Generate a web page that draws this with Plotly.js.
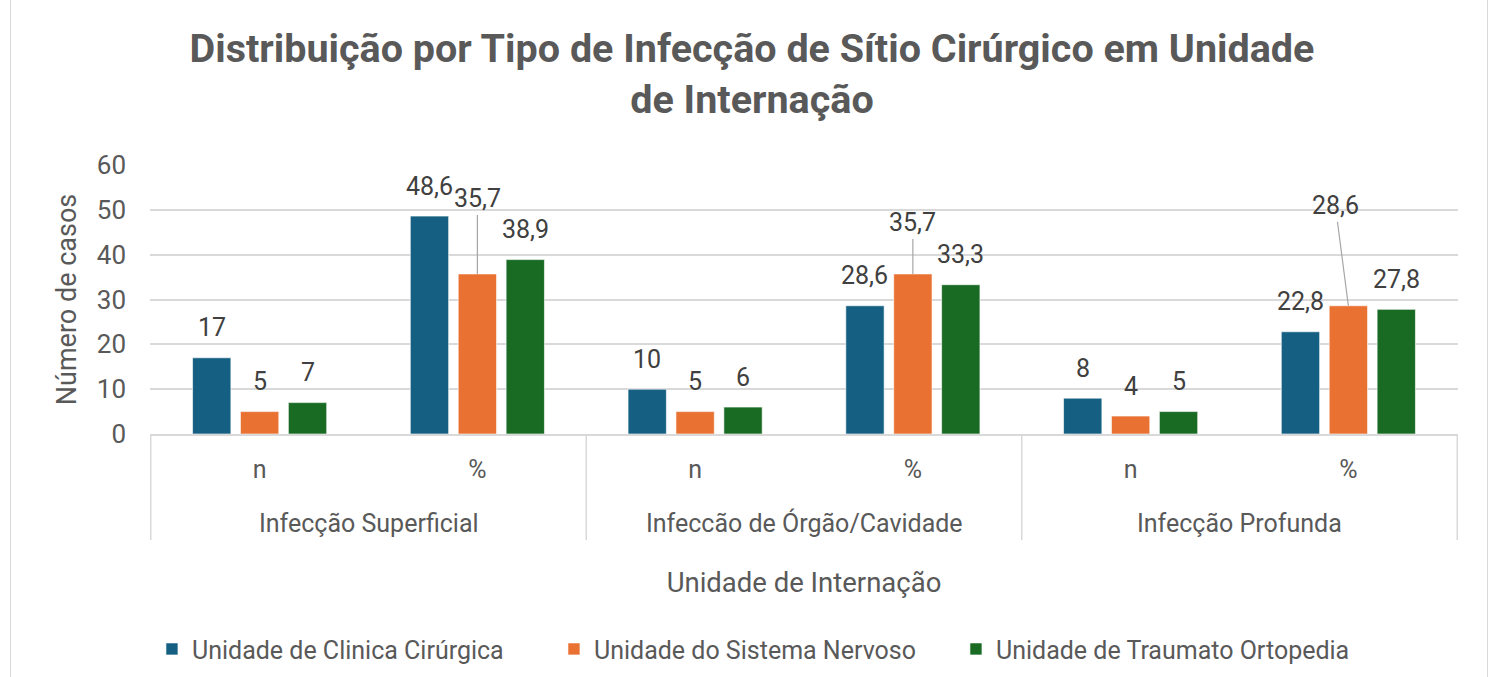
<!DOCTYPE html>
<html>
<head>
<meta charset="utf-8">
<script src="https://cdn.plot.ly/plotly-3.0.1.min.js"></script>
<style>
  html, body { margin: 0; padding: 0; background: #ffffff; }
  #frame { position: absolute; left: 10px; top: 0; width: 1476px; height: 677px;
           border-left: 1.5px solid #d9d9d9; border-right: 1.5px solid #d9d9d9; }
  #chart { position: absolute; left: 0; top: 0; width: 1498px; height: 677px; }
</style>
</head>
<body>
<div id="frame"></div>
<div id="chart"></div>
<script>
// ---- data ----
const infectionTypes = ["Infecção Superficial", "Infeccão de Órgão/Cavidade", "Infecção Profunda"];
const measures = ["n", "%"];
const seriesNames = ["Unidade de Clinica Cirúrgica", "Unidade do Sistema Nervoso", "Unidade de Traumato Ortopedia"];
const clinicaCirurgica = [17, 48.6, 10, 28.6, 8, 22.8];
const sistemaNervoso = [5, 35.7, 5, 35.7, 4, 28.6];
const traumatoOrtopedia = [7, 38.9, 6, 33.3, 5, 27.8];

// ---- styles ----
const colors = ["#156082", "#E97132", "#196B24"];
const textColor = "#595959";
const fontFamily = "Roboto, 'Open Sans', sans-serif";

const categories = [];
const tickText = [];
infectionTypes.forEach(t => measures.forEach(m => { categories.push(t + " | " + m); tickText.push(m); }));

const allSeries = [clinicaCirurgica, sistemaNervoso, traumatoOrtopedia];

const traces = allSeries.map((vals, i) => ({
  type: "bar",
  name: seriesNames[i],
  x: categories,
  y: vals,
  marker: { color: colors[i], line: { color: "rgba(255,255,255,0.6)", width: 1 } },
  hoverinfo: "x+y+name"
}));

// label placement (styling only): per-series pixel shift, and leader-line labels
const slotPx = 48;
const leader = { "1-1": { ax: 0, ay: -75 }, "1-3": { ax: 0, ay: -51 }, "1-5": { ax: -13, ay: -100 } };
const fmt = v => String(v).replace(".", ",");

const annotations = [];
allSeries.forEach((vals, s) => {
  vals.forEach((v, c) => {
    const key = s + "-" + c;
    const base = {
      x: categories[c], y: v, xref: "x", yref: "y",
      text: fmt(v), xshift: (s - 1) * slotPx,
      font: { family: fontFamily, size: 25, color: "#404040" }
    };
    if (leader[key]) {
      annotations.push(Object.assign(base, {
        showarrow: true, arrowhead: 0, arrowwidth: 1.2, arrowcolor: "#a6a6a6",
        ax: leader[key].ax, ay: leader[key].ay, standoff: 0, startstandoff: 0
      }));
    } else {
      annotations.push(Object.assign(base, { showarrow: false, yshift: 30, yanchor: "middle" }));
    }
  });
});

// outer group labels
infectionTypes.forEach((t, g) => {
  annotations.push({
    x: g * 2 + 0.5, y: -0.331, xref: "x", yref: "paper",
    text: t, showarrow: false, yanchor: "middle",
    font: { family: fontFamily, size: 25, color: textColor }
  });
});

// group divider lines
const shapes = [];
for (let g = 0; g <= infectionTypes.length; g++) {
  shapes.push({
    type: "line", xref: "x", yref: "paper",
    x0: g * 2 - 0.5, x1: g * 2 - 0.5, y0: 0, y1: -0.394,
    line: { color: "#d9d9d9", width: 1.5 }
  });
}

const layout = {
  width: 1498, height: 677,
  paper_bgcolor: "rgba(0,0,0,0)", plot_bgcolor: "rgba(0,0,0,0)",
  margin: { l: 150, r: 40, t: 165, b: 243, autoexpand: false },
  title: {
    text: "Distribuição por Tipo de Infecção de Sítio Cirúrgico em Unidade<br>de Internação",
    font: { family: fontFamily, size: 39.5, weight: 700, color: textColor },
    x: 0.502, xanchor: "center", yref: "container", y: 0.909, yanchor: "top"
  },
  barmode: "group",
  bargap: 0.34,
  bargroupgap: 0.2,
  xaxis: {
    type: "category",
    tickvals: categories, ticktext: tickText,
    tickfont: { family: fontFamily, size: 25, color: textColor },
    ticks: "", ticklabelstandoff: 12,
    showline: true, linecolor: "#d9d9d9", linewidth: 1.5,
    showgrid: false, zeroline: false,
    title: { text: "Unidade de Internação", font: { family: fontFamily, size: 27.5, color: textColor }, standoff: 90 }
  },
  yaxis: {
    range: [0, 60], dtick: 10,
    tickfont: { family: fontFamily, size: 26, color: textColor },
    gridcolor: "#d9d9d9", gridwidth: 1.5,
    zeroline: false, showline: false, ticklabelstandoff: 23,
    title: { text: "Número de casos", font: { family: fontFamily, size: 27, color: textColor }, standoff: 12 }
  },
  showlegend: true,
  legend: {
    orientation: "h", x: 0.0015, xanchor: "left", y: -0.8, yanchor: "middle",
    font: { family: fontFamily, size: 25, color: textColor },
    entrywidth: 357, entrywidthmode: "pixels", traceorder: "normal",
    bgcolor: "rgba(0,0,0,0)"
  },
  annotations: annotations,
  shapes: shapes
};

Plotly.newPlot("chart", traces, layout, { displayModeBar: false, responsive: false });
</script>
</body>
</html>
